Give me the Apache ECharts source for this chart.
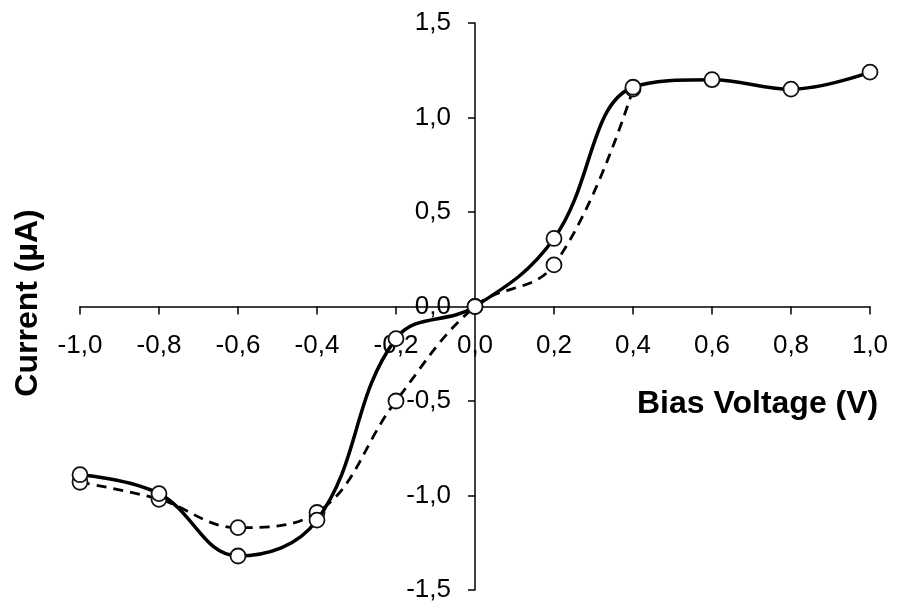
<!DOCTYPE html>
<html>
<head>
<meta charset="utf-8">
<script src="https://cdn.jsdelivr.net/npm/echarts@6/dist/echarts.min.js"></script>
<style>
  html, body { margin: 0; padding: 0; background: #fff; }
  #chart { width: 897px; height: 609px; }
</style>
</head>
<body>
<div id="chart"></div>
<script>
// bias voltage (V)
const voltage = [-1.0, -0.8, -0.6, -0.4, -0.2, 0.0, 0.2, 0.4, 0.6, 0.8, 1.0];
// current (uA), solid curve
const currentSolid = [-0.89, -0.99, -1.32, -1.13, -0.17, 0.0, 0.36, 1.16, 1.20, 1.15, 1.24];
// current (uA), dashed curve (stops at 0.4 V)
const currentDashed = [-0.93, -1.02, -1.17, -1.09, -0.50, 0.0, 0.22, 1.15];

const comma = v => v.toFixed(1).replace('.', ',');
const font = 'Liberation Sans, Arial, sans-serif';

const W = 897, H = 609;
const grid = { left: 80, right: 27, top: 23, bottom: 19 };
// axes cross at zero, in the middle of the plot
const xShift = -(H - grid.top - grid.bottom) / 2;
const yShift = -(W - grid.left - grid.right) / 2;

const chart = echarts.init(document.getElementById('chart'));

const marker = {
  color: '#fff',
  borderColor: '#111',
  borderWidth: 1.8
};

chart.setOption({
  animation: false,
  grid: grid,
  xAxis: {
    type: 'value',
    min: -1,
    max: 1,
    interval: 0.2,
    offset: xShift,
    axisLine: { onZero: false, lineStyle: { color: '#000', width: 1.5 } },
    axisTick: { show: true, inside: false, length: 8, lineStyle: { color: '#000', width: 1.5 } },
    axisLabel: {
      color: '#000',
      fontSize: 26,
      fontFamily: font,
      margin: 26,
      formatter: comma
    },
    splitLine: { show: false }
  },
  yAxis: {
    type: 'value',
    min: -1.5,
    max: 1.5,
    interval: 0.5,
    offset: yShift,
    axisLine: { onZero: false, lineStyle: { color: '#000', width: 1.5 } },
    axisTick: { show: true, inside: false, length: 7, lineStyle: { color: '#000', width: 1.5 } },
    axisLabel: {
      color: '#000',
      fontSize: 26,
      fontFamily: font,
      margin: 24,
      formatter: comma
    },
    splitLine: { show: false }
  },
  graphic: [
    {
      type: 'text',
      x: 637,
      y: 404,
      style: {
        text: 'Bias Voltage (V)',
        font: 'bold 32px ' + font,
        fill: '#000',
        textAlign: 'left',
        textVerticalAlign: 'middle'
      }
    },
    {
      type: 'text',
      x: 28,
      y: 303,
      rotation: Math.PI / 2,
      style: {
        text: 'Current (µA)',
        font: 'bold 32px ' + font,
        fill: '#000',
        textAlign: 'center',
        textVerticalAlign: 'middle'
      }
    }
  ],
  series: [
    {
      type: 'line',
      data: currentDashed.map((c, i) => [voltage[i], c]),
      smooth: 0.4,
      symbol: 'circle',
      symbolSize: 15,
      itemStyle: marker,
      lineStyle: { color: '#000', width: 2.8, type: [10, 7] },
      z: 2
    },
    {
      type: 'line',
      data: currentSolid.map((c, i) => [voltage[i], c]),
      smooth: 0.4,
      symbol: 'circle',
      symbolSize: 15,
      itemStyle: marker,
      lineStyle: { color: '#000', width: 3.5 },
      z: 3
    }
  ]
});
</script>
</body>
</html>
